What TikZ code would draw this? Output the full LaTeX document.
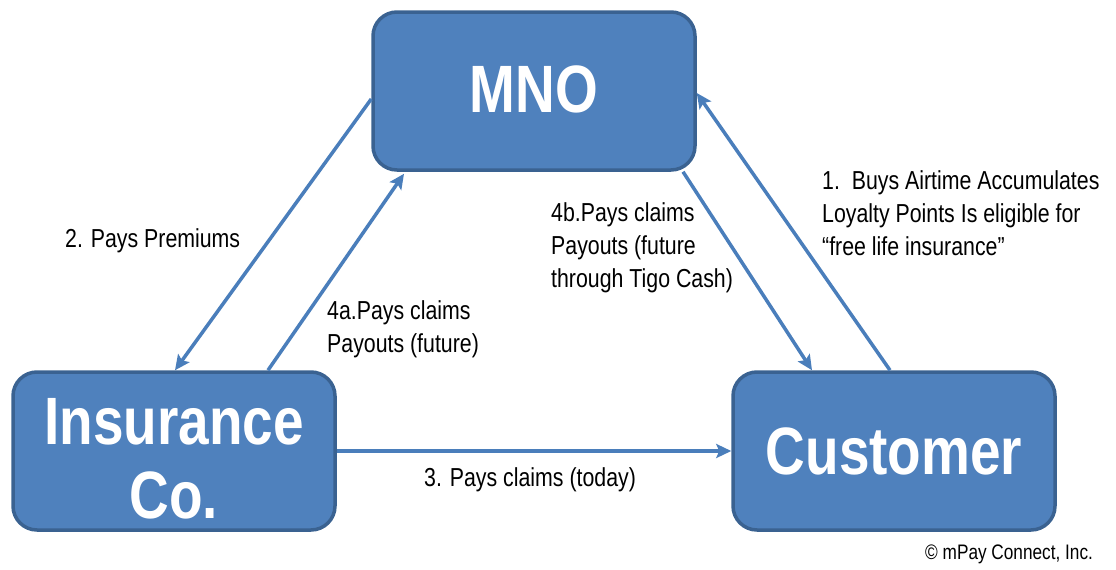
\documentclass[tikz,border=0pt]{standalone}
\usepackage{fontspec}
\setmainfont{Liberation Sans}[FakeStretch=0.82]
\usetikzlibrary{arrows.meta,calc}
\definecolor{boxfill}{HTML}{4F81BD}
\definecolor{boxline}{HTML}{3A6291}
\definecolor{arrowcol}{HTML}{4A7EBB}
\tikzset{
  entity/.style={draw=boxline, fill=boxfill, line width=3.5pt, rounded corners=24pt,
    minimum width=322pt, minimum height=158pt, inner sep=0pt, text=white,
    font=\bfseries\fontsize{67}{74}\selectfont, align=center},
  flow/.style={draw=arrowcol, line width=3.5pt, -{Stealth[length=15pt,width=14pt,inset=3pt]}},
  lbl/.style={font=\fontsize{26}{33}\selectfont, align=left, anchor=base west, inner sep=0pt, text=black},
}
\begin{document}
\begin{tikzpicture}[x=1pt,y=-1pt]
\useasboundingbox (0,0) rectangle (1116,570);
\node[entity] (mno) at (534,91) {\raisebox{3pt}{MNO}};
\node[entity] (ins) at (174,451) {\rule{0pt}{62pt}Insurance\\Co.};
\node[entity] (cus) at (894,451) {Customer};

\draw[flow] ($(mno.west)+(0,8)$) -- ($(ins.north)+(1,0)$);
\draw[flow] ($(ins.north)+(94,0)$) -- ($(mno.south)+(-130,2)$);
\draw[flow] ($(mno.south)+(149,0)$) -- ($(cus.north)+(-82,0)$);
\draw[flow] ($(cus.north)+(-4,0)$) -- ($(mno.east)+(0,2)$);
\draw[flow] (ins.east) -- (cus.west);

\node[lbl] (l2) at (65,247) {2. Pays Premiums};
\node[lbl] (l4a) at (327,352) {4a.Pays claims\\Payouts (future)};
\node[lbl] (l4b) at (551,287) {4b.Pays claims\\Payouts (future\\through Tigo Cash)};
\node[lbl] (l1) at (822,255) {1.\ \ Buys Airtime Accumulates\\Loyalty Points Is eligible for\\“free life insurance”};
\node[lbl] (l3) at (424,486) {3. Pays claims (today)};
\node[lbl, font=\fontsize{21}{24}\selectfont] (copy) at (925,559) {© mPay Connect, Inc.};
\end{tikzpicture}
\end{document}
